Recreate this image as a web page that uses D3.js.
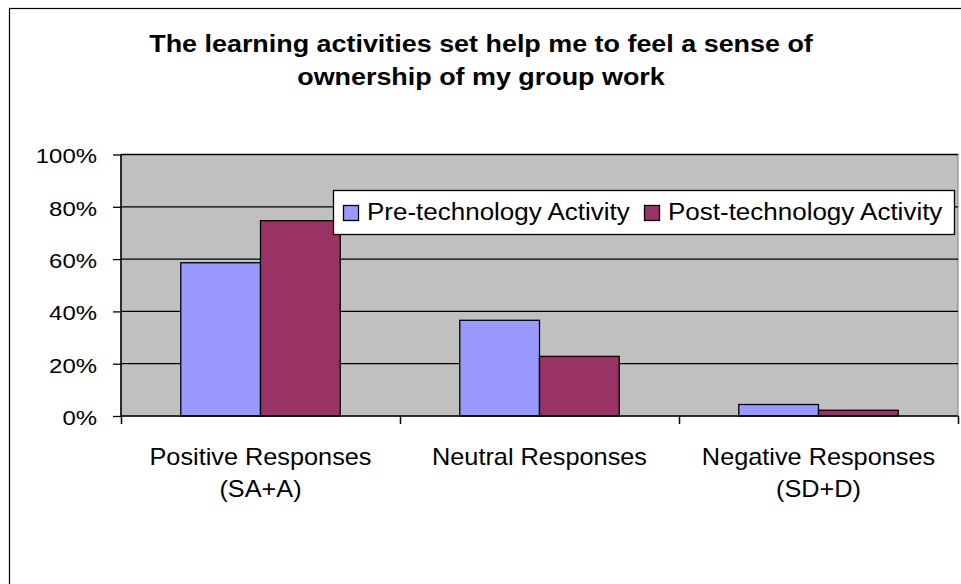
<!DOCTYPE html>
<html><head><meta charset="utf-8">
<script src="https://cdn.jsdelivr.net/npm/d3@7"></script>
<style>body{margin:0;background:#fff}svg{display:block}text{font-family:"Liberation Sans",Arial,sans-serif}</style>
</head><body><svg id="c" width="961" height="584"></svg>
<script>
const titleLines = ["The learning activities set help me to feel a sense of", "ownership of my group work"];
const categories = [["Positive Responses", "(SA+A)"], ["Neutral Responses"], ["Negative Responses", "(SD+D)"]];
const seriesNames = ["Pre-technology Activity", "Post-technology Activity"];
const preValues = [58.6, 36.6, 4.4];
const postValues = [74.7, 22.8, 2.2];
const yTicks = [0, 20, 40, 60, 80, 100];
const colors = ["#9999FF", "#993366"];

const svg = d3.select("#c");
// helper: horizontally stretched text (reference fonts are rendered wide)
function stext(parent, x, y, str, size, sx, anchor, weight) {
  return parent.append("text").attr("transform", `translate(${x},${y}) scale(${sx},1)`)
    .attr("text-anchor", anchor || "start").attr("font-size", size)
    .attr("font-weight", weight || "normal").attr("fill", "#000").text(str);
}

svg.append("rect").attr("x", 9.5).attr("y", 8.5).attr("width", 1000).attr("height", 1000)
  .attr("fill", "#fff").attr("stroke", "#000").attr("stroke-width", 1.2);

titleLines.forEach((t, i) => stext(svg, 481, 52 + i * 33, t, 23, 1.17, "middle", "bold"));

const L = 121, R = 958, T = 154.5, B = 416;
const x = d3.scaleBand().domain(d3.range(categories.length)).range([L, R]);
const xs = d3.scaleBand().domain([0, 1]).range([0, x.bandwidth()]).paddingInner(0).paddingOuter(0.75);
const y = d3.scaleLinear().domain([0, 100]).range([B, T]);

svg.append("rect").attr("x", L).attr("y", T).attr("width", R - L).attr("height", B - T)
  .attr("fill", "#C0C0C0").attr("stroke", "#808080").attr("stroke-width", 1);

svg.append("g").selectAll("line").data(yTicks.filter(v => v > 0)).join("line")
  .attr("x1", L).attr("x2", R).attr("y1", d => y(d)).attr("y2", d => y(d))
  .attr("stroke", "#000").attr("stroke-width", 1.3);

const data = categories.map((c, i) => [preValues[i], postValues[i]]);
const g = svg.append("g");
data.forEach((vals, ci) => {
  vals.forEach((v, si) => {
    g.append("rect").attr("x", x(ci) + xs(si)).attr("width", xs.bandwidth())
      .attr("y", y(v)).attr("height", B - y(v))
      .attr("fill", colors[si]).attr("stroke", "#000").attr("stroke-width", 1.3);
  });
});

// y axis
const ya = svg.append("g").attr("transform", `translate(${L},0)`)
  .call(d3.axisLeft(y).tickValues(yTicks).tickFormat("").tickSize(8));
ya.select(".domain").attr("stroke", "#000").attr("stroke-width", 1.5).attr("d", `M0,${T}V${B}`);
ya.selectAll(".tick line").attr("stroke", "#000").attr("stroke-width", 1.3);
yTicks.forEach(v => stext(svg, L - 24, y(v) + 8.8, v + "%", 21, 1.14, "end"));

// x axis
const xb = d3.scaleLinear().domain([0, categories.length]).range([L, R]);
const xa = svg.append("g").attr("transform", `translate(0,${B})`)
  .call(d3.axisBottom(xb).tickValues(d3.range(categories.length + 1)).tickSize(8).tickFormat(""));
xa.select(".domain").attr("stroke", "#000").attr("stroke-width", 1.5).attr("d", `M${L},0H${R}`);
xa.selectAll(".tick line").attr("stroke", "#000").attr("stroke-width", 1.5);

categories.forEach((lines, i) => {
  lines.forEach((ln, j) => stext(svg, x(i) + x.bandwidth() / 2, 465 + j * 32, ln, 23, 1.1, "middle"));
});

// legend
const lg = svg.append("g");
lg.append("rect").attr("x", 333.5).attr("y", 190.5).attr("width", 621).attr("height", 44)
  .attr("fill", "#fff").attr("stroke", "#000").attr("stroke-width", 1.3);
const lx = [343, 644];
seriesNames.forEach((n, i) => {
  lg.append("rect").attr("x", lx[i] + 0.5).attr("y", 205.5).attr("width", 15).attr("height", 15)
    .attr("fill", colors[i]).attr("stroke", "#000").attr("stroke-width", 1.3);
  stext(lg, lx[i] + 24, 220, n, 23, 1.13, "start");
});
</script></body></html>
